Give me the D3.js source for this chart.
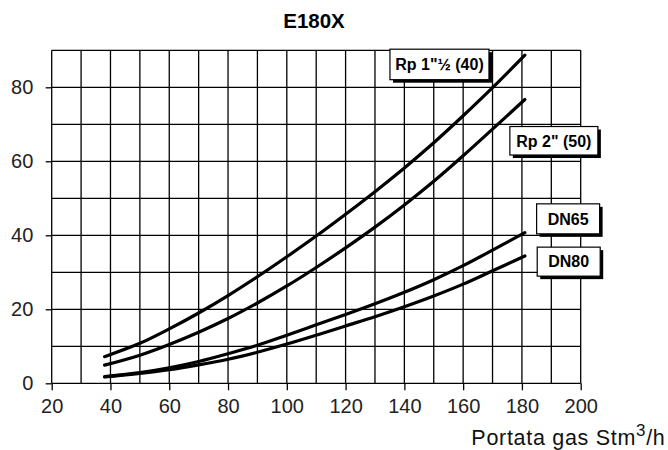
<!DOCTYPE html>
<html>
<head>
<meta charset="utf-8">
<script src="https://cdn.jsdelivr.net/npm/d3@7"></script>
<style>
  html, body { margin: 0; padding: 0; background: #fff; }
  svg { display: block; font-family: "Liberation Sans", Arial, sans-serif; }
</style>
</head>
<body>
<svg id="chart" width="668" height="450"></svg>
<script>
// ---- data ----
const chartTitle = "E180X";
const flow = [38, 50, 60, 70, 80, 90, 100, 110, 120, 130, 140, 150, 160, 170, 181];
const rp40 = [7.2, 10.8, 14.7, 19.0, 23.7, 28.8, 34.2, 39.8, 45.7, 51.8, 58.2, 65.0, 72.3, 79.9, 88.7];
const rp50 = [4.9, 7.6, 10.5, 13.8, 17.5, 21.7, 26.3, 31.3, 36.6, 42.2, 48.2, 54.6, 61.5, 68.7, 76.7];
const dn65 = [1.8, 2.9, 4.2, 5.9, 8.0, 10.3, 13.0, 15.8, 18.6, 21.5, 24.6, 28.0, 31.8, 36.0, 40.7];
const dn80 = [1.7, 2.7, 3.7, 5.0, 6.5, 8.4, 10.6, 13.0, 15.5, 18.0, 20.7, 23.6, 26.8, 30.4, 34.4];
const seriesNames = ["Rp 1\"\u00bd (40)", "Rp 2\" (50)", "DN65", "DN80"];
const xTicks = [20, 40, 60, 80, 100, 120, 140, 160, 180, 200];
const yTicks = [0, 20, 40, 60, 80];
const xGrid = [20, 30, 40, 50, 60, 70, 80, 90, 100, 110, 120, 130, 140, 150, 160, 170, 180, 190, 200];
const yGrid = [0, 10, 20, 30, 40, 50, 60, 70, 80, 90];
const xTitle = "Portata gas Stm";
const xTitleSup = "3";
const xTitleEnd = "/h";

// label box anchors (left/top in data units) - layout
const labelLeft = [135.1, 175.9, 185.0, 185.2];
const labelTop = [90.3, 69.4, 48.5, 36.8];
const labelW = [99, 88, 63, 63];
const labelH = [30.5, 28.5, 30, 29];

// ---- scales ----
const svg = d3.select("#chart");
const x = d3.scaleLinear().domain([20, 200]).range([51.7, 580.7]);
const y = d3.scaleLinear().domain([0, 90]).range([383.3, 50.3]);

// grid
const grid = svg.append("g").attr("stroke", "#000").attr("stroke-width", 1.3);
grid.selectAll("line.v").data(xGrid).join("line").attr("class", "v")
  .attr("x1", d => x(d)).attr("x2", d => x(d)).attr("y1", y(0)).attr("y2", y(90));
grid.selectAll("line.h").data(yGrid).join("line").attr("class", "h")
  .attr("x1", x(20)).attr("x2", x(200)).attr("y1", d => y(d)).attr("y2", d => y(d));

// axes
const yAxis = d3.axisLeft(y).tickValues(yTicks).tickSize(6).tickPadding(12.4).tickFormat(d3.format("d"));
const gy = svg.append("g").attr("transform", `translate(${x(20)},0)`).call(yAxis);
const xAxis = d3.axisBottom(x).tickValues(xTicks).tickSize(7).tickPadding(9).tickFormat(d3.format("d"));
const gx = svg.append("g").attr("transform", `translate(0,${y(0)})`).call(xAxis);
[gx, gy].forEach(g => {
  g.select(".domain").remove();
  g.selectAll(".tick line").attr("stroke", "#000").attr("stroke-width", 1.3);
  g.selectAll(".tick text").attr("fill", "#222").style("font-size", "20px")
    .style("font-family", "'Liberation Sans', Arial, sans-serif");
});

// curves
const allSeries = [rp40, rp50, dn65, dn80];
const line = d3.line().x(d => x(d[0])).y(d => y(d[1])).curve(d3.curveCatmullRom.alpha(0.5));
svg.append("g").selectAll("path").data(allSeries).join("path")
  .attr("d", s => line(flow.map((f, i) => [f, s[i]])))
  .attr("fill", "none").attr("stroke", "#000").attr("stroke-width", 3.2)
  .attr("stroke-linecap", "round");

// label boxes
const lg = svg.append("g").selectAll("g").data(seriesNames).join("g")
  .attr("transform", (d, i) => `translate(${x(labelLeft[i])},${y(labelTop[i])})`);
lg.append("rect").attr("x", 3).attr("y", 3)
  .attr("width", (d, i) => labelW[i]).attr("height", (d, i) => labelH[i]).attr("fill", "#000");
lg.append("rect").attr("x", 0).attr("y", 0)
  .attr("width", (d, i) => labelW[i]).attr("height", (d, i) => labelH[i])
  .attr("fill", "#fff").attr("stroke", "#000").attr("stroke-width", 1.2);
lg.append("text").attr("x", (d, i) => labelW[i] / 2).attr("y", (d, i) => labelH[i] / 2 + 5.8)
  .attr("text-anchor", "middle").attr("font-size", 16).attr("font-weight", "bold")
  .attr("fill", "#000").text(d => d);

// title
svg.append("text").attr("x", 314).attr("y", 28.3).attr("text-anchor", "middle")
  .attr("font-size", 20.5).attr("font-weight", "bold").text(chartTitle);

// x axis title
const xt = svg.append("text").attr("x", 665.5).attr("y", 444.5).attr("text-anchor", "end")
  .attr("font-size", 21.5).attr("fill", "#111").attr("letter-spacing", 0.7);
xt.append("tspan").text(xTitle);
xt.append("tspan").attr("font-size", 17).attr("dy", -9).text(xTitleSup);
xt.append("tspan").attr("dy", 9).text(xTitleEnd);
</script>
</body>
</html>
